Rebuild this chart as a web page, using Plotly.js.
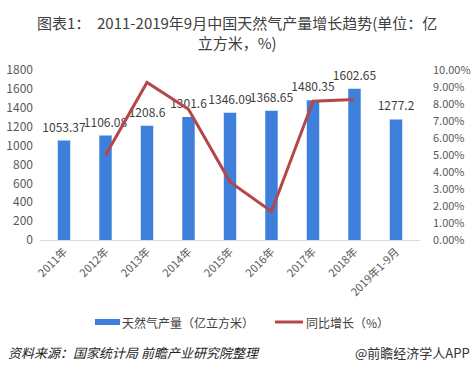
<!DOCTYPE html>
<html><head><meta charset="utf-8">
<script src="https://cdn.plot.ly/plotly-3.0.1.min.js"></script>
<style>html,body{margin:0;padding:0;background:#fff;}#chart{width:474px;height:374px;}</style>
</head><body><div id="chart"></div>
<script>
const categories = ["2011年","2012年","2013年","2014年","2015年","2016年","2017年","2018年","2019年1-9月"];
const output = [1053.37,1106.08,1208.6,1301.6,1346.09,1368.65,1480.35,1602.65,1277.2];
const growthCats = ["2012年","2013年","2014年","2015年","2016年","2017年","2018年"];
const growth = [4.98,9.27,7.69,3.42,1.68,8.16,8.26];
const leftTicks = [0,200,400,600,800,1000,1200,1400,1600,1800];
const rightTicks = [0,1,2,3,4,5,6,7,8,9,10];

const FONT = '"Noto Sans CJK SC", "Noto Sans", sans-serif';
const BAR = '#3d7fda', LINE = '#b5474b';
const bars = {
  type:'bar', x:categories, y:output, name:'天然气产量（亿立方米）',
  marker:{color:BAR}, width:0.3, showlegend:false
};
const line = {
  type:'scatter', mode:'lines', x:growthCats, y:growth, yaxis:'y2', showlegend:false,
  name:'同比增长（%）', line:{color:LINE,width:3}
};
const labels = {
  type:'scatter', mode:'markers+text', x:categories, y:output, showlegend:false,
  marker:{size:8, opacity:0}, text:output.map(v=>String(v)), textposition:'top center',
  cliponaxis:false, textfont:{size:12,color:'#404040',family:FONT}, hoverinfo:'skip'
};
const px = v => (v-40)/380;      // helper for legend placement (paper x)
const py = v => (240-v)/170;     // helper for legend placement (paper y)
const layout = {
  width:474, height:374,
  margin:{l:40,r:54,t:70,b:134},
  paper_bgcolor:'#fff', plot_bgcolor:'#fff',
  font:{family:FONT,color:'#595959',size:12},
  xaxis:{type:'category', tickangle:-45, showline:true, linecolor:'#d9d9d9', linewidth:1,
    ticks:'', showgrid:false, tickfont:{size:11,color:'#595959'}},
  yaxis:{range:[0,1800], tickvals:leftTicks, showgrid:false, zeroline:false,
    ticks:'', ticklabelstandoff:6, tickfont:{size:12,color:'#595959'}},
  yaxis2:{range:[0,10], tickvals:rightTicks, ticktext:rightTicks.map(v=>v.toFixed(2)+'%'),
    overlaying:'y', side:'right', showgrid:false, zeroline:false, ticks:'',
    ticklabelstandoff:12, tickfont:{size:11,color:'#595959'}},
  shapes:[
    {type:'rect', xref:'paper', yref:'paper', x0:px(95), x1:px(120), y0:py(325), y1:py(319),
     fillcolor:BAR, line:{width:0}},
    {type:'line', xref:'paper', yref:'paper', x0:px(275), x1:px(303), y0:py(322), y1:py(322),
     line:{color:LINE,width:3}}
  ],
  annotations:[
    {text:'图表1：  2011-2019年9月中国天然气产量增长趋势(单位：亿<br>立方米，%)',
     xref:'paper', yref:'paper', x:px(237), xanchor:'center', y:py(10), yanchor:'top',
     showarrow:false, align:'center', font:{size:15,color:'#404040',family:FONT}},
    {text:'天然气产量（亿立方米）', xref:'paper', yref:'paper', x:px(120), xanchor:'left',
     y:py(322), yanchor:'middle', showarrow:false, font:{size:12,color:'#404040'}},
    {text:'同比增长（%）', xref:'paper', yref:'paper', x:px(304), xanchor:'left',
     y:py(322), yanchor:'middle', showarrow:false, font:{size:12,color:'#404040'}},
    {text:'<i>资料来源：国家统计局 前瞻产业研究院整理</i>', xref:'paper', yref:'paper',
     x:px(6), xanchor:'left', y:py(352), yanchor:'middle', showarrow:false,
     font:{size:13,color:'#222',family:FONT}},
    {text:'@前瞻经济学人APP', xref:'paper', yref:'paper',
     x:px(472), xanchor:'right', y:py(352), yanchor:'middle', showarrow:false,
     font:{size:13,color:'#333',family:FONT}}
  ]
};
Plotly.newPlot('chart',[bars,line,labels],layout,{displayModeBar:false,staticPlot:true});
</script></body></html>
